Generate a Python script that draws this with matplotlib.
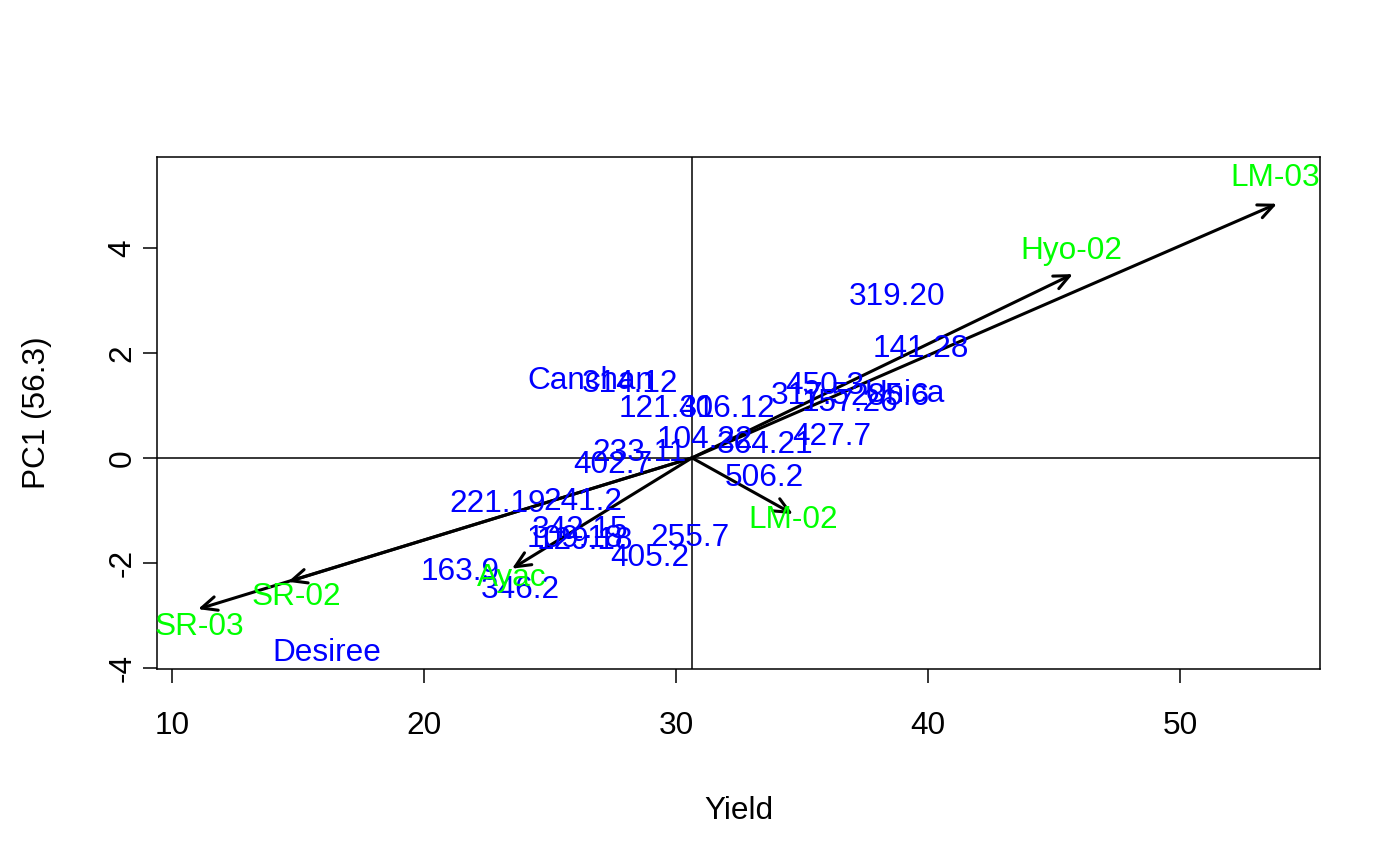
import numpy as np
import matplotlib.pyplot as plt

plt.rcParams['font.family'] = ['Liberation Sans', 'DejaVu Sans']
plt.rcParams['axes.unicode_minus'] = False

# genotype labels (blue) and their positions
gen_names = ['Canchan', '314.12', '121.31', '406.12', '450.3', '317.5', '157.26',
             '285.6', 'Unica', '104.22', '364.21', '427.7', '233.11', '402.7',
             '506.2', '319.20', '141.28', '221.19', '241.2', '342.15', '109.18',
             '129.18', '255.7', '405.2', '163.9', '346.2', 'Desiree']
gen_x = [26.59, 28.17, 29.64, 32.02, 35.91, 35.32, 36.90, 38.49, 39.09, 31.15,
         33.53, 36.19, 28.57, 27.50, 33.49, 38.77, 39.72, 22.94, 26.31, 26.19,
         25.99, 26.39, 30.56, 28.97, 21.43, 23.81, 16.15]
gen_y = [1.47, 1.41, 0.93, 0.93, 1.37, 1.18, 1.05, 1.16, 1.22, 0.34,
         0.25, 0.40, 0.10, -0.13, -0.38, 3.07, 2.08, -0.88, -0.84, -1.37,
         -1.54, -1.58, -1.52, -1.90, -2.17, -2.51, -3.71]

# environment labels (green), arrow tips and label positions
env_names = ['LM-03', 'Hyo-02', 'LM-02', 'SR-02', 'SR-03', 'Ayac']
env_tip_x = [53.85, 45.75, 34.64, 14.60, 11.03, 23.49]
env_tip_y = [4.84, 3.50, -1.07, -2.36, -2.88, -2.11]
env_lab_x = [53.77, 45.71, 34.64, 14.92, 11.07, 23.49]
env_lab_y = [5.33, 3.94, -1.18, -2.65, -3.22, -2.29]

origin = (30.635, 0.0)

fig = plt.figure(figsize=(14, 8.66), dpi=100)
ax = fig.add_axes([0.1121, 0.2275, 0.8308, 0.5912])

ax.axvline(origin[0], color='black', lw=1.1)
ax.axhline(origin[1], color='black', lw=1.1)

for tx, ty in zip(env_tip_x, env_tip_y):
    ax.annotate('', xy=(tx, ty), xytext=origin,
                arrowprops=dict(arrowstyle='->,head_length=1.1,head_width=0.5',
                                color='black', lw=2.2, shrinkA=0, shrinkB=0))

for n, x, y in zip(gen_names, gen_x, gen_y):
    ax.text(x, y, n, color='#0000FF', fontsize=22.7, ha='center', va='center')
for n, x, y in zip(env_names, env_lab_x, env_lab_y):
    ax.text(x, y, n, color='#00FF00', fontsize=22.7, ha='center', va='center')

ax.set_xlim(9.40, 55.56)
ax.set_ylim(-4.02, 5.73)
ax.set_xticks([10, 20, 30, 40, 50])
ax.set_yticks([-4, -2, 0, 2, 4])
ax.tick_params(labelsize=22.7, length=10, width=1.1)
ax.tick_params(axis='x', pad=20)
ax.tick_params(axis='y', pad=4)
for lab in ax.get_yticklabels():
    lab.set_rotation(90)
    lab.set_va('center')
for s in ax.spines.values():
    s.set_linewidth(1.1)

ax.set_xlabel('Yield', fontsize=22.7, labelpad=40)
ax.set_ylabel('PC1 (56.3)', fontsize=22.7, labelpad=40)

fig.savefig('out.png', dpi=100)
